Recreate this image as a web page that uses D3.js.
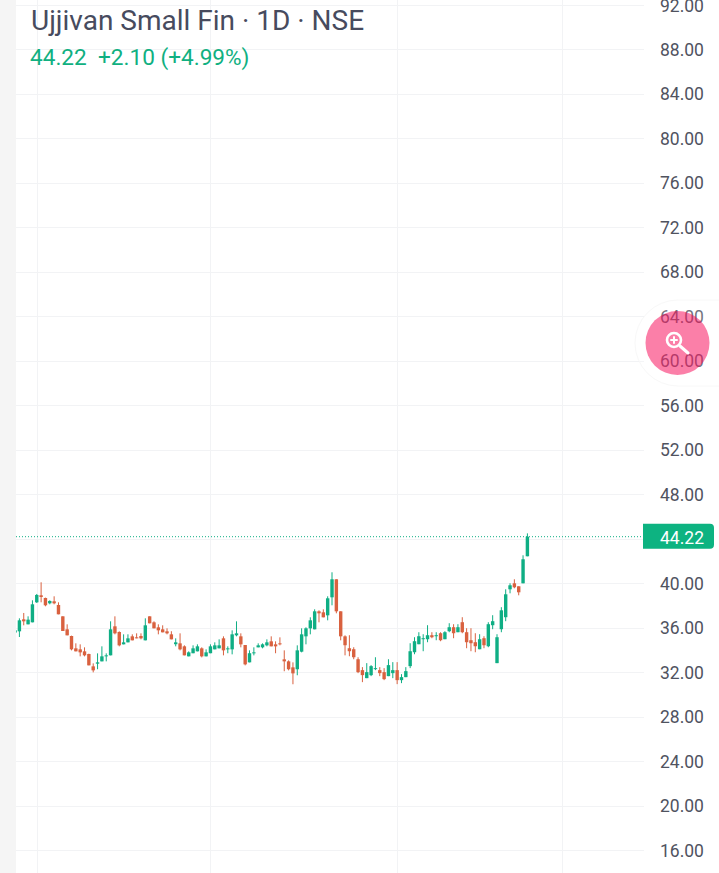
<!DOCTYPE html>
<html>
<head>
<meta charset="utf-8">
<script src="https://cdn.jsdelivr.net/npm/d3@7"></script>
<style>
html, body { margin: 0; padding: 0; background: #fff; overflow: hidden; }
svg { display: block; font-family: Roboto, sans-serif; }
</style>
</head>
<body>
<svg id="chart" width="719" height="873"></svg>
<script>
// daily candles. first one is cut off by the left edge
var opens = [35.6,
    35.71,36.79,36.34,36.52,38.32,38.95,38.71,38.23,38.41,38.08,
    37.06,35.89,35.29,34.18,34.09,33.91,33.67,32.56,32.8,33.01,
    33.46,33.55,36.16,35.65,34.54,34.72,35.26,35.17,35.29,34.9,
    37.06,36.52,36.07,35.89,35.71,35.44,34.55,34.63,34.36,33.46,
    33.74,33.91,34.18,33.46,33.74,34.09,34.18,35.08,34.09,34.09,
    35.35,35.26,34.48,32.92,33.74,34.27,34.27,34.45,34.81,34.54,
    34.63,33.19,33.01,32.47,32.3,33.88,35.26,35.98,35.89,37.51,
    37.42,37.15,38.77,40.39,37.51,35.26,34.19,34.1,33.2,32.22,
    31.5,31.77,32.31,32.22,32.04,31.68,31.95,32.22,31.32,31.59,
    32.58,33.83,34.55,35.03,35.0,35.36,35.27,35.54,35.0,35.72,
    36.08,35.63,36.53,35.63,34.91,34.73,34.1,35.09,34.37,36.26,
    32.85,35.9,36.98,39.49,40.03,39.76,40.03,42.46];
var closes = [35.8,
    36.7,36.61,36.76,38.14,38.98,38.8,38.05,38.44,38.23,37.24,
    35.74,35.35,34.09,33.91,33.82,33.55,32.65,32.2,32.92,33.46,
    33.55,35.89,35.53,34.45,34.72,35.08,34.9,35.08,35.08,36.25,
    36.43,35.98,35.8,35.62,35.53,34.99,34.72,34.09,33.55,33.82,
    34.18,34.36,33.46,33.82,34.36,34.45,34.45,34.0,34.18,35.44,
    35.53,34.54,32.74,33.74,33.82,34.45,34.54,34.72,34.36,34.36,
    34.54,33.01,32.3,31.93,34.0,35.44,35.98,36.7,37.51,37.33,
    36.97,38.68,40.39,37.51,35.26,34.46,33.92,33.38,32.04,31.77,
    32.04,32.58,32.4,31.95,31.41,32.67,32.22,31.32,31.59,32.13,
    33.92,34.82,35.27,35.09,35.36,35.18,35.36,34.91,35.63,36.08,
    35.54,36.08,35.63,34.73,34.64,34.37,35.0,34.46,36.35,36.62,
    35.18,37.6,39.04,39.85,39.67,39.22,42.19,44.22];
var highs = [35.8,
    36.88,37.36,37.06,38.5,39.07,40.12,38.74,38.5,38.86,38.32,
    37.06,36.34,35.32,34.63,34.54,34.27,33.7,32.83,33.73,34.36,
    33.73,36.61,37.06,35.71,35.44,35.44,35.44,35.53,35.53,36.88,
    37.06,36.61,36.34,36.25,35.98,35.72,35.08,35.53,34.45,33.91,
    34.45,34.54,34.27,34.09,34.54,34.72,34.99,35.26,34.36,35.8,
    36.61,35.53,34.48,34.0,34.27,34.63,34.63,34.99,35.26,34.81,
    35.17,34.0,33.1,32.92,34.45,35.98,36.07,36.97,37.69,37.6,
    37.69,38.86,41.02,40.39,37.51,35.35,35.36,34.28,33.38,32.49,
    32.85,32.67,33.38,32.49,32.4,33.2,32.94,32.94,31.86,32.49,
    34.64,35.18,35.63,35.45,36.26,35.63,35.63,35.63,35.72,36.44,
    36.35,36.35,36.98,35.99,35.99,35.54,35.45,35.27,36.53,37.16,
    35.45,37.88,39.49,40.03,40.39,39.76,42.55,44.52];
var lows = [35.6,
    35.2,36.25,36.34,36.52,38.26,38.32,37.96,38.14,38.14,37.24,
    35.74,35.35,34.0,33.91,33.46,33.46,32.65,32.02,32.3,33.01,
    33.01,33.55,35.44,34.36,34.54,34.72,34.9,35.08,34.99,34.9,
    36.43,35.98,35.44,35.62,35.44,34.99,34.36,34.0,33.55,33.46,
    33.74,33.91,33.37,33.46,33.74,34.09,34.18,33.55,33.74,33.64,
    35.26,34.27,32.65,32.92,33.55,34.27,34.18,34.36,34.36,33.74,
    34.45,32.12,32.2,30.95,31.76,33.82,34.54,35.44,35.89,36.52,
    36.97,36.7,38.05,37.33,34.9,33.55,33.47,33.2,31.95,31.14,
    31.5,31.68,32.22,31.68,31.32,31.68,31.5,30.96,31.05,31.59,
    32.4,33.65,34.55,33.92,34.73,35.09,34.91,34.82,35.0,35.63,
    35.09,35.63,35.54,34.19,33.92,33.83,34.1,34.19,34.28,35.9,
    32.85,35.63,36.62,39.13,39.58,38.95,40.03,42.46];

var priceTicks = [92,88,84,80,76,72,68,64,60,56,52,48,44,40,36,32,28,24,20,16];
var timeGrid = [4, 44, 87, 125]; // bar numbers of the vertical grid lines
var lastPrice = 44.22;
var titleText = "Ujjivan Small Fin · 1D · NSE";
var quoteText = "44.22  +2.10 (+4.99%)";

var green = "#0fae84";
var red = "#d9613f";
var gridColor = "#f2f3f5";

var svg = d3.select("#chart");
var left = 16, right = 644;

var y = d3.scaleLinear().domain([16, 92]).range([850.5, 5.4]);
var x = d3.scaleLinear().domain([0, 117]).range([19.4, 527.4]);

// grey strip on the left
svg.append("rect").attr("x", 0).attr("y", 0).attr("width", left).attr("height", 873).attr("fill", "#f5f5f5");

svg.append("clipPath").attr("id", "plot").append("rect")
    .attr("x", left).attr("y", 0).attr("width", right - left).attr("height", 873);

var plot = svg.append("g").attr("clip-path", "url(#plot)");

plot.selectAll(".hgrid").data(priceTicks).enter().append("line")
    .attr("x1", left).attr("x2", right)
    .attr("y1", d => Math.floor(y(d)) + 0.5).attr("y2", d => Math.floor(y(d)) + 0.5)
    .attr("stroke", gridColor);

plot.selectAll(".vgrid").data(timeGrid).enter().append("line")
    .attr("x1", d => Math.round(x(d)) + 0.5).attr("x2", d => Math.round(x(d)) + 0.5)
    .attr("y1", 0).attr("y2", 873)
    .attr("stroke", gridColor);

// last price line
plot.append("line")
    .attr("x1", left).attr("x2", right)
    .attr("y1", y(lastPrice)).attr("y2", y(lastPrice))
    .attr("stroke", green).attr("stroke-dasharray", "1 2");

// candles, index -1 is the clipped one
var candles = plot.selectAll(".candle").data(d3.range(opens.length)).enter().append("g");
var col = i => closes[i] >= opens[i] ? green : red;

candles.append("line")
    .attr("x1", i => x(i - 1)).attr("x2", i => x(i - 1))
    .attr("y1", i => y(highs[i])).attr("y2", i => y(lows[i]))
    .attr("stroke", col).attr("stroke-width", 1);

candles.append("rect")
    .attr("x", i => x(i - 1) - 1.7)
    .attr("width", 3.4)
    .attr("y", i => y(Math.max(opens[i], closes[i])))
    .attr("height", i => Math.max(1, Math.abs(y(opens[i]) - y(closes[i]))))
    .attr("fill", col);

// price axis
var axis = d3.axisRight(y)
    .tickValues(priceTicks)
    .tickSize(0)
    .tickPadding(0)
    .tickFormat(d => d.toFixed(2));

var axisG = svg.append("g").attr("transform", "translate(660,0)").call(axis);
axisG.select(".domain").remove();
axisG.selectAll("text")
    .attr("font-family", "Roboto, sans-serif")
    .attr("font-size", 17.5)
    .attr("fill", "#50535f");

// last price label
var lastY = y(lastPrice);
svg.append("path")
    .attr("d", "M643," + (lastY - 13) + "H710a4,4 0 0 1 4,4V" + (lastY + 8) + "a4,4 0 0 1 -4,4H643Z")
    .attr("fill", "#0db381");
svg.append("text")
    .attr("x", 682).attr("y", lastY + 7)
    .attr("text-anchor", "middle")
    .attr("font-size", 17.5)
    .attr("fill", "#fff")
    .text(lastPrice.toFixed(2));

// zoom button sits over the axis labels
svg.append("rect")
    .attr("x", 635).attr("y", 300).attr("width", 130).attr("height", 86).attr("rx", 43)
    .attr("fill", "#fff").attr("fill-opacity", 0.2)
    .attr("stroke", "#f8f8f8");
svg.append("circle")
    .attr("cx", 677.5).attr("cy", 343).attr("r", 32)
    .attr("fill", "#f70051").attr("fill-opacity", 0.5);

var icon = svg.append("g").attr("fill", "none").attr("stroke", "#fff").attr("stroke-linecap", "round");
icon.append("circle").attr("cx", 674).attr("cy", 340).attr("r", 7).attr("stroke-width", 2.6);
icon.append("line").attr("x1", 680).attr("y1", 346).attr("x2", 688).attr("y2", 353).attr("stroke-width", 3);
icon.append("line").attr("x1", 671).attr("y1", 340).attr("x2", 677).attr("y2", 340).attr("stroke-width", 2);
icon.append("line").attr("x1", 674).attr("y1", 337).attr("x2", 674).attr("y2", 343).attr("stroke-width", 2);

// header
svg.append("text")
    .attr("x", 31).attr("y", 30)
    .attr("font-size", 28)
    .attr("fill", "#474b5e")
    .text(titleText);
svg.append("text")
    .attr("x", 30).attr("y", 65)
    .attr("font-size", 22.6)
    .attr("fill", "#10b081")
    .style("white-space", "pre")
    .text(quoteText);
</script>
</body>
</html>
